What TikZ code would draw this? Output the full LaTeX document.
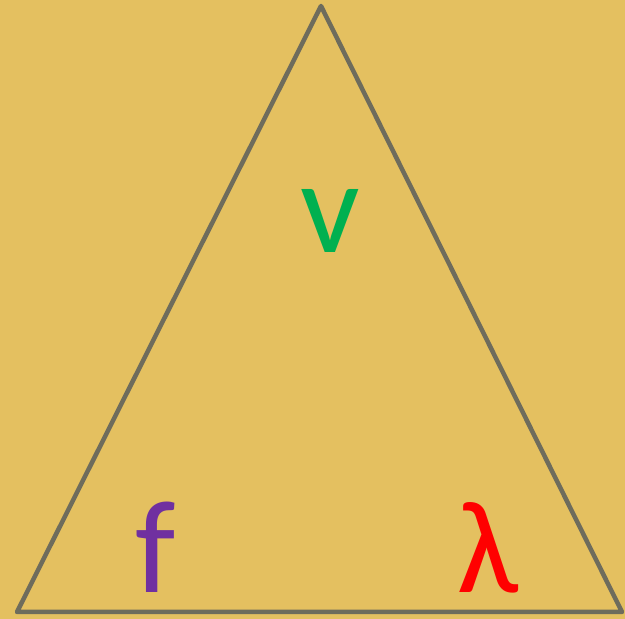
\documentclass[tikz,border=0pt]{standalone}
\usepackage{fontspec}
\setmainfont{Carlito}
\definecolor{bg}{HTML}{E4C060}
\definecolor{edge}{HTML}{6E6C5C}
\definecolor{vgreen}{HTML}{00B050}
\definecolor{fpurple}{HTML}{7030A0}
\definecolor{lred}{HTML}{FF0000}
\tikzset{
  sym/.style={anchor=base, inner sep=0pt, font=\fontsize{132}{132}\selectfont},
  tri/.style={draw=edge, line width=4.5pt, line join=round}
}
\begin{document}
\begin{tikzpicture}[x=1pt,y=1pt]
\fill[bg] (0,0) rectangle (625,619);
\useasboundingbox (0,0) rectangle (625,619);
\coordinate (top) at (321,613);
\coordinate (bl) at (17,7);
\coordinate (br) at (622,7);
\draw[tri] (top) -- (bl) -- (br) -- cycle;
\node[sym, text=vgreen] (v) at (330,366) {v};
\node[sym, text=fpurple] (f) at (156,26) {f};
\node[sym, text=lred] (l) at (488,26) {λ};
\end{tikzpicture}
\end{document}
